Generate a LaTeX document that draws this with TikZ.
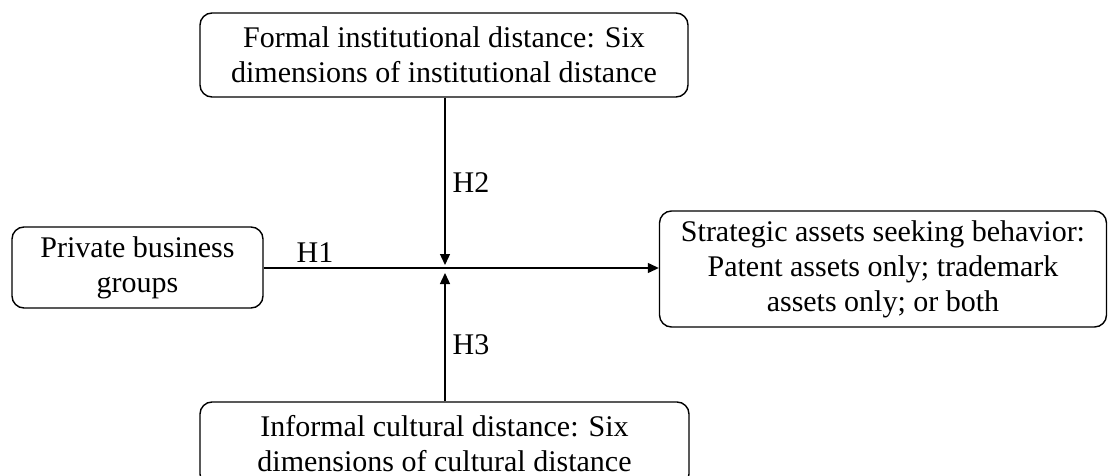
\documentclass[tikz,border=0pt]{standalone}
\usepackage{fontspec}
\setmainfont{Liberation Serif}
\usetikzlibrary{arrows.meta}
\begin{document}
\begin{tikzpicture}[x=1pt,y=-1pt,
  box/.style={draw, line width=1.4pt, rounded corners=12pt, align=center, inner sep=0pt,
    font=\fontsize{30}{35}\selectfont},
  lbl/.style={font=\fontsize{30}{35}\selectfont, inner sep=0pt},
  arr/.style={line width=1.3pt, -{Triangle[length=11pt,width=10pt]}}]
\useasboundingbox (0,0) rectangle (1108,476);
\node[box, minimum width=488pt, minimum height=84pt] (top) at (444,55) {Formal institutional distance: Six\\dimensions of institutional distance};
\node[box, minimum width=251pt, minimum height=81pt] (left) at (137.5,267.5) {Private business\\groups};
\node[box, minimum width=447pt, minimum height=116pt] (right) at (883,269) {Strategic assets seeking behavior:\\Patent assets only; trademark\\assets only; or both};
\node[box, minimum width=489pt, minimum height=84pt] (bot) at (444.5,444) {Informal cultural distance: Six\\dimensions of cultural distance};
\coordinate (dt) at (445,265);
\coordinate (ut) at (445,273);
\draw[arr] (top.south -| dt) -- (dt);
\draw[arr] (bot.north -| ut) -- (ut);
\draw[arr] (left.east |- 0,268) -- (right.west |- 0,268);
\node[lbl] (h1) at (315,253) {H1};
\node[lbl] (h2) at (471,183) {H2};
\node[lbl] (h3) at (471,345) {H3};
\end{tikzpicture}
\end{document}
